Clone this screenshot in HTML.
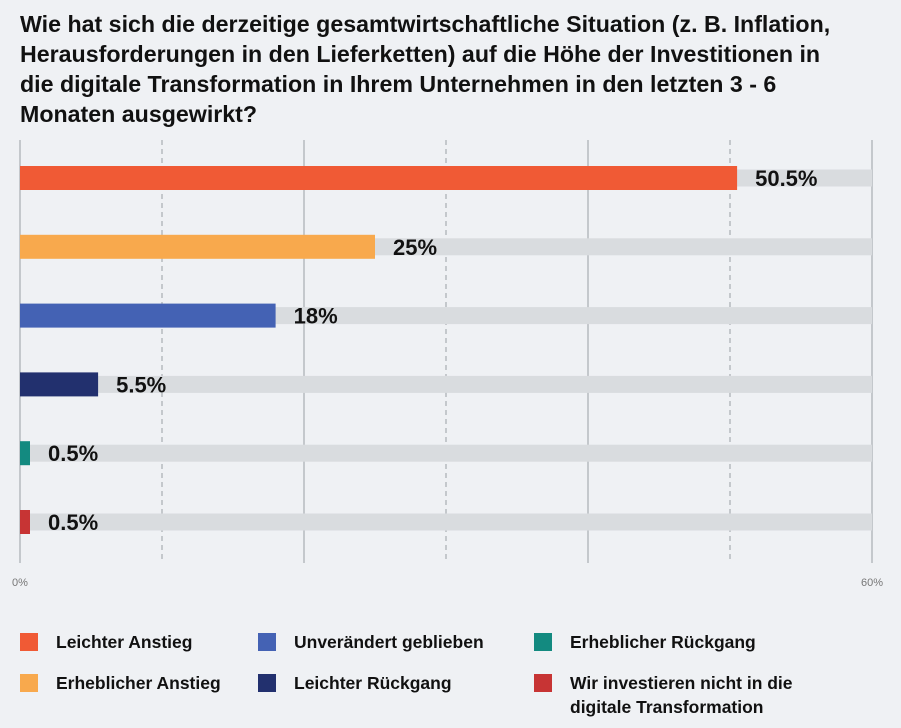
<!DOCTYPE html>
<html><head><meta charset="utf-8"><style>
body{margin:0;background:#eff1f4;}
svg{display:block;font-family:"Liberation Sans",sans-serif;}
</style></head><body>
<svg width="901" height="728" viewBox="0 0 901 728" id="chart">
<rect x="0" y="0" width="901" height="728" fill="#eff1f4"/>
<g font-size="23.2" font-weight="bold" fill="#111">
<text x="20" y="32">Wie hat sich die derzeitige gesamtwirtschaftliche Situation (z. B. Inflation,</text>
<text x="20" y="62">Herausforderungen in den Lieferketten) auf die Höhe der Investitionen in</text>
<text x="20" y="92">die digitale Transformation in Ihrem Unternehmen in den letzten 3 - 6</text>
<text x="20" y="122">Monaten ausgewirkt?</text>
</g>
<g id="grid"></g>
<g id="bars"></g>
<text x="20" y="586" font-size="11" fill="#777" text-anchor="middle">0%</text>
<text x="872" y="586" font-size="11" fill="#777" text-anchor="middle">60%</text>
<g id="legend" font-size="17.5" font-weight="bold" fill="#111"></g>
</svg>
<script>
const categories = ["Leichter Anstieg","Erheblicher Anstieg","Unverändert geblieben","Leichter Rückgang","Erheblicher Rückgang","Wir investieren nicht in die digitale Transformation"];
const values = [50.5, 25, 18, 5.5, 0.5, 0.5];
const valueLabels = ["50.5%","25%","18%","5.5%","0.5%","0.5%"];
const colors = ["#f05a35","#f8a94d","#4462b4","#22306e","#138a80","#c73434"];
const gridTicks = [0,10,20,30,40,50,60];
const NS="http://www.w3.org/2000/svg";
const x0=20,x1=872,maxV=60;
const xs=v=>x0+(x1-x0)*v/maxV;
const rowY=i=>178+i*68.8;
function mk(t,a,p){const e=document.createElementNS(NS,t);for(const k in a)e.setAttribute(k,a[k]);p.appendChild(e);return e;}
const grid=document.getElementById('grid');
gridTicks.forEach((t,i)=>{
 const l=mk('line',{x1:xs(t),x2:xs(t),y1:140,y2:563,stroke:'#9a9ea4','stroke-width':1},grid);
 if(i%2===1)l.setAttribute('stroke-dasharray','5,4');
 
 
});
const bars=document.getElementById('bars');
values.forEach((v,i)=>{
 const y=rowY(i);
 const tr=mk('rect',{x:x0,y:y-8.5,width:x1-x0,height:17,fill:'#d9dcdf'},bars);
 
 
 const w=Math.max(xs(v)-x0,10);
 const b=mk('rect',{x:x0,y:y-12,width:w,height:24,fill:colors[i]},bars);
 
 
 const t=mk('text',{x:x0+w+18,y:y+8,'font-size':22,'font-weight':'bold',fill:'#111'},bars);
 t.textContent=valueLabels[i];
 
 
});
const leg=document.getElementById('legend');
const lx=[20,20,258,258,534,534], ly=[642,683,642,683,642,683];
categories.forEach((c,i)=>{
 const g=mk('g',{},leg);
 
 
 mk('rect',{x:lx[i],y:ly[i]-9,width:18,height:18,fill:colors[i]},g);
 if(i===5){
  const t=mk('text',{x:lx[i]+36,y:ly[i]+6},g);t.textContent="Wir investieren nicht in die";
  const t2=mk('text',{x:lx[i]+36,y:ly[i]+30},g);t2.textContent="digitale Transformation";
 } else {
  const t=mk('text',{x:lx[i]+36,y:ly[i]+6},g);t.textContent=c;
 }
});
</script>
</body></html>
